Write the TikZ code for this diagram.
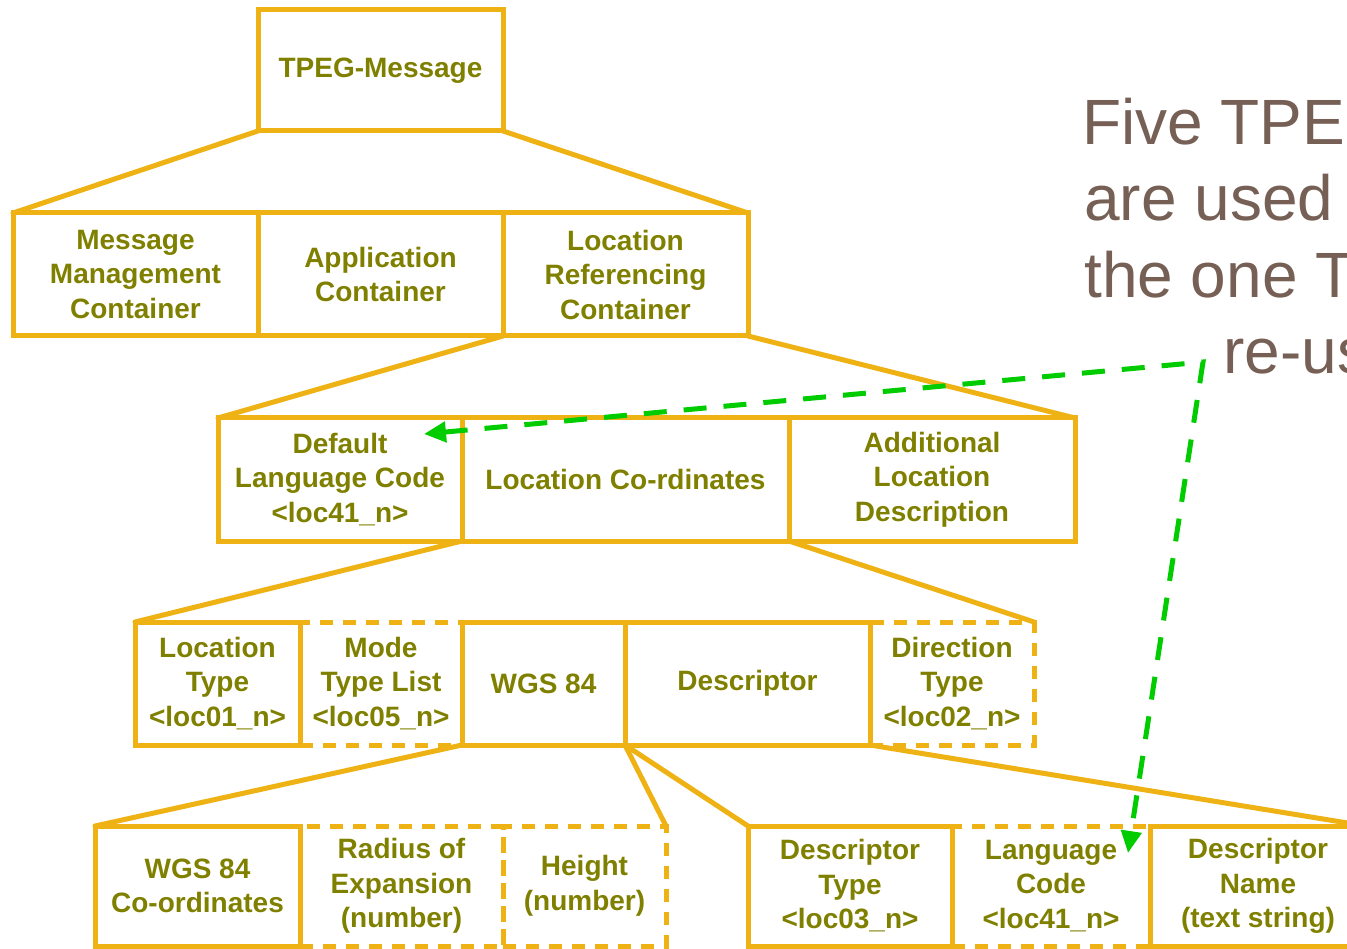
\documentclass[tikz,border=0pt]{standalone}
\usepackage{fontspec}
\setmainfont{Liberation Sans}
\usetikzlibrary{arrows.meta}
\definecolor{gold}{RGB}{238,178,20}
\definecolor{olivetext}{RGB}{128,128,0}
\definecolor{arrowgreen}{RGB}{0,204,0}
\definecolor{notebrown}{RGB}{118,96,86}
\tikzset{
  box/.style={rectangle, draw=gold, line width=5pt, inner sep=0pt, outer sep=0pt,
    text=olivetext, align=center, font=\bfseries\fontsize{28}{34.5}\selectfont},
  solidbox/.style={box},
  dashbox/.style={box, dash pattern=on 13pt off 10pt},
  link/.style={draw=gold, line width=5pt, line cap=round},
  greenlink/.style={draw=arrowgreen, line width=5pt, dash pattern=on 23pt off 17pt,
    {Triangle[length=22pt,width=20pt]}-{Triangle[length=22pt,width=20pt]}},
  note/.style={text=notebrown, font=\fontsize{64}{76}\selectfont, anchor=base west, inner sep=0pt}
}
\begin{document}
\begin{tikzpicture}[x=1pt,y=-1pt]
\useasboundingbox (0,0) rectangle (1347,949);
\clip (0,0) rectangle (1347,949);
% dashed boxes first
\node[dashbox, minimum width=162pt, minimum height=123pt] (mtl) at (381,683.5) {Mode\\Type List\\<loc05\_n>};
\node[dashbox, minimum width=164pt, minimum height=123pt] (dir) at (952,683.5) {Direction\\Type\\<loc02\_n>};
\node[dashbox, minimum width=203pt, minimum height=120pt] (rad) at (401.5,886) {Radius of\\Expansion\\(number)};
\node[dashbox, minimum width=163pt, minimum height=120pt] (hgt) at (584.5,886) {Height\\(number)};
\node[dashbox, minimum width=198pt, minimum height=120pt] (lang) at (1051,886) {Language\\Code\\<loc41\_n>};
% solid boxes
\node[solidbox, minimum width=245pt, minimum height=121pt] (tpeg) at (380.5,70.5) {TPEG-Message};
\node[solidbox, minimum width=245pt, minimum height=123pt] (mm) at (135.5,274.5) {Message\\Management\\Container};
\node[solidbox, minimum width=245pt, minimum height=123pt] (app) at (380.5,274.5) {Application\\Container};
\node[solidbox, minimum width=245pt, minimum height=123pt] (lrc) at (625.5,274.5) {Location\\Referencing\\Container};
\node[solidbox, minimum width=244pt, minimum height=123pt] (dlc) at (340,479.5) {Default\\Language Code\\<loc41\_n>};
\node[solidbox, minimum width=327pt, minimum height=123pt] (lcoord) at (625.5,479.5) {Location Co-rdinates};
\node[solidbox, minimum width=286pt, minimum height=123pt] (add) at (932,479.5) {Additional\\Location\\Description};
\node[solidbox, minimum width=165pt, minimum height=123pt] (lt) at (217.5,683.5) {Location\\Type\\<loc01\_n>};
\node[solidbox, minimum width=163pt, minimum height=123pt] (wgs) at (543.5,683.5) {WGS 84};
\node[solidbox, minimum width=245pt, minimum height=123pt] (desc) at (747.5,683.5) {Descriptor};
\node[solidbox, minimum width=205pt, minimum height=120pt] (wgsc) at (197.5,886) {WGS 84\\Co-ordinates};
\node[solidbox, minimum width=204pt, minimum height=120pt] (dtype) at (850,886) {Descriptor\\Type\\<loc03\_n>};
\node[solidbox, minimum width=216pt, minimum height=120pt] (dname) at (1258,886) {Descriptor\\Name\\(text string)};
% connectors
\draw[link] (tpeg.south west) -- (mm.north west);
\draw[link] (tpeg.south east) -- (lrc.north east);
\draw[link] (lrc.south west) -- (dlc.north west);
\draw[link] (lrc.south east) -- (add.north east);
\draw[link] (lcoord.south west) -- (lt.north west);
\draw[link] (lcoord.south east) -- (dir.north east);
\draw[link] (wgs.south west) -- (wgsc.north west);
\draw[link] (wgs.south east) -- (hgt.north east);
\draw[link] (desc.south west) -- (dtype.north west);
\draw[link] (desc.south east) -- (dname.north east);
% note text
\node[note] (n1) at (1082,145) {Five TPEG};
\node[note] (n2) at (1084,221) {are used};
\node[note] (n3) at (1084,298) {the one TPEG};
\node[note] (n4) at (1223,374) {re-used};
% green reuse arrow
\coordinate (gA) at (424,434);
\coordinate (gB) at (1203,362);
\coordinate (gC) at (1128,853);
\draw[greenlink] (gA) -- (gB) -- (gC);
\end{tikzpicture}
\end{document}
